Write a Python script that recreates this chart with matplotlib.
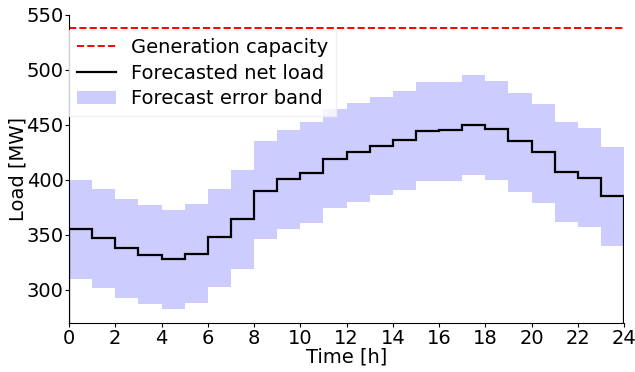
import matplotlib
matplotlib.use("Agg")
import matplotlib.pyplot as plt
from matplotlib.lines import Line2D
from matplotlib.patches import Patch

hours = list(range(25))
net_load = [355, 347, 338, 332, 328, 333, 348, 364, 390, 401, 406, 419,
            425, 431, 436, 444, 445, 450, 446, 435, 425, 407, 402, 385]
upper = [400, 392, 383, 377, 373, 378, 392, 409, 435, 445, 452, 464,
         470, 475, 481, 489, 489, 495, 490, 479, 469, 452, 447, 430]
lower = [310, 302, 293, 287, 283, 288, 303, 319, 346, 355, 361, 374,
         380, 386, 391, 399, 399, 404, 400, 389, 379, 362, 357, 340]
capacity = 537.5
x_ticks = list(range(0, 25, 2))
y_ticks = [300, 350, 400, 450, 500, 550]
legend_labels = ["Generation capacity", "Forecasted net load", "Forecast error band"]

fig = plt.figure(figsize=(6.35, 3.72), dpi=100)
ax = fig.add_axes([0.1087, 0.1317, 0.874, 0.8293])

band_color = (0.8, 0.8, 1.0)
ax.stairs(upper, hours, baseline=lower, fill=True, color=band_color, zorder=1)
ax.stairs(net_load, hours, color="black", lw=1.6, zorder=3)
ax.axhline(capacity, color="red", ls="--", lw=1.4, zorder=2)

ax.set_xlim(0, 24)
ax.set_ylim(270, 550)
ax.set_xticks(x_ticks)
ax.set_yticks(y_ticks)
ax.tick_params(labelsize=14, length=3, pad=1)
ax.set_xlabel("Time [h]", fontsize=14, labelpad=0)
ax.set_ylabel("Load [MW]", fontsize=14, labelpad=-1)
ax.spines["top"].set_visible(False)
ax.spines["right"].set_visible(False)

h = [Line2D([], [], color="red", ls="--", lw=1.4),
     Line2D([], [], color="black", lw=1.6),
     Patch(facecolor=band_color, edgecolor="none")]
ax.legend(h, legend_labels,
          loc="upper left", bbox_to_anchor=(0.0, 0.95), borderaxespad=0.0,
          fontsize=14, frameon=True, edgecolor="0.93", fancybox=False,
          handlelength=2.0, labelspacing=0.35)

fig.savefig("out.png", dpi=100)
